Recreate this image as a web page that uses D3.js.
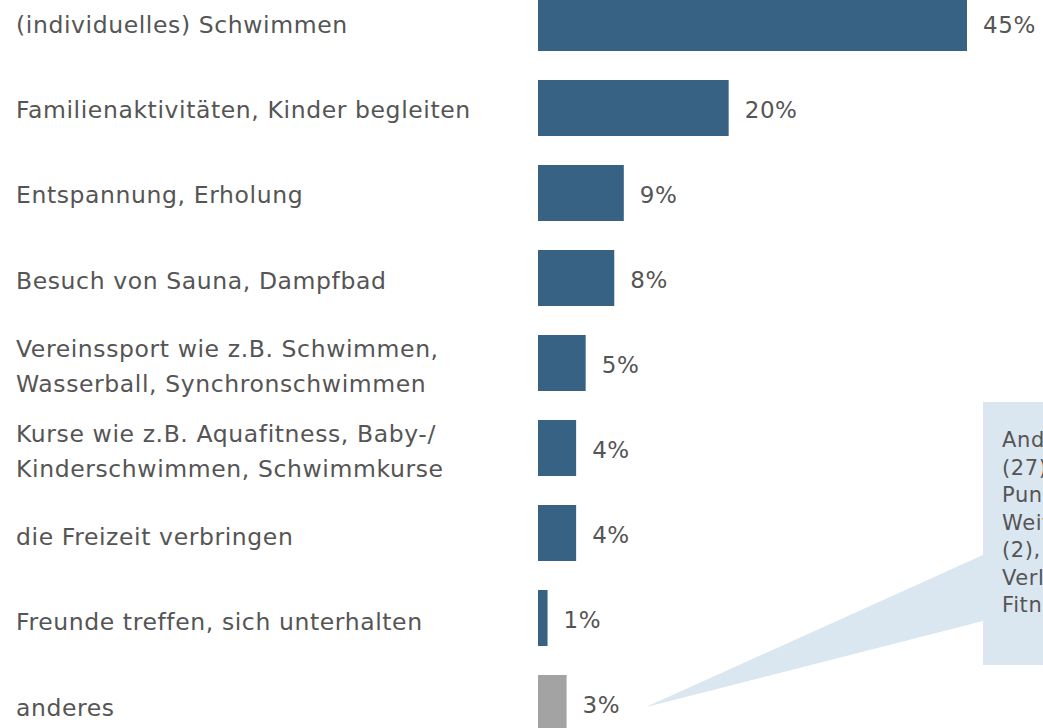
<!DOCTYPE html>
<html>
<head>
<meta charset="utf-8">
<script src="https://cdn.jsdelivr.net/npm/d3@7"></script>
<style>
  html, body { margin: 0; padding: 0; background: #fff; overflow: hidden; }
  svg { display: block; font-family: "DejaVu Sans", Verdana, sans-serif; }
</style>
</head>
<body>
<div id="chart"></div>
<script>
// ============ Data ============
const categories = [
  ['(individuelles) Schwimmen'],
  ['Familienaktivitäten, Kinder begleiten'],
  ['Entspannung, Erholung'],
  ['Besuch von Sauna, Dampfbad'],
  ['Vereinssport wie z.B. Schwimmen,', 'Wasserball, Synchronschwimmen'],
  ['Kurse wie z.B. Aquafitness, Baby-/', 'Kinderschwimmen, Schwimmkurse'],
  ['die Freizeit verbringen'],
  ['Freunde treffen, sich unterhalten'],
  ['anderes']
];
const values = [45, 20, 9, 8, 5, 4, 4, 1, 3];
const isOther = [false, false, false, false, false, false, false, false, true];

// callout text (right part is cut off by the page edge)
const calloutLines = [
  'Andere Sportarten',
  '(27), z.B. Tauchen,',
  'Punkte sammeln (3),',
  'Weiterbildung',
  '(2), Training nach',
  'Verletzung (2),',
  'Fitness (2)'
];

const W = 1043, H = 728;
const ids = categories.map((c, i) => i);

const svg = d3.select('#chart').append('svg')
  .attr('width', W).attr('height', H);

// ── Scales ──
const x = d3.scaleLinear().domain([0, 45]).range([538, 967]);
const y = d3.scaleBand().domain(ids)
  .range([-19.5, 745.5])
  .paddingInner(29 / 85)
  .paddingOuter(29 / 170);
const yLabel = d3.scalePoint().domain(ids).range([21.5, 704.5]);

// ── Callout (behind bars) ──
const callout = svg.append('g');
callout.append('polygon')
  .attr('points', [[983, 555], [646, 707], [983, 621]].map(p => p.join(',')).join(' '))
  .attr('fill', '#dae6f0');
callout.append('rect')
  .attr('x', 983).attr('y', 402)
  .attr('width', 220).attr('height', 263)
  .attr('fill', '#dae6f0');
callout.append('text')
  .attr('font-size', 21)
  .attr('letter-spacing', 0.6)
  .attr('fill', '#555555')
  .selectAll('tspan')
  .data(calloutLines).enter().append('tspan')
  .attr('x', 1002)
  .attr('y', (d, i) => 447 + i * 27.5)
  .text(d => d);

// ── Bars ──
svg.append('g').selectAll('rect')
  .data(ids).enter().append('rect')
  .attr('x', x(0))
  .attr('y', i => y(i))
  .attr('width', i => x(values[i]) - x(0))
  .attr('height', y.bandwidth())
  .attr('fill', i => isOther[i] ? '#a3a3a3' : '#376284');

// ── Value labels ──
svg.append('g').selectAll('text')
  .data(ids).enter().append('text')
  .attr('x', i => x(values[i]) + 16)
  .attr('y', i => y(i) + y.bandwidth() / 2 + 10)
  .attr('font-size', 23)
  .attr('letter-spacing', 0.6)
  .attr('fill', '#555555')
  .text(i => values[i] + '%');

// ── Category labels ──
const lbl = svg.append('g').selectAll('text')
  .data(ids).enter().append('text')
  .attr('font-size', 23.5)
  .attr('letter-spacing', 0.6)
  .attr('fill', '#555555');
lbl.selectAll('tspan')
  .data(i => categories[i].map((t, k) => ({ t, k, n: categories[i].length, i })))
  .enter().append('tspan')
  .attr('x', 16)
  .attr('y', d => yLabel(d.i) + 11 + (d.k - (d.n - 1) / 2) * 35)
  .text(d => d.t);
</script>
</body>
</html>
